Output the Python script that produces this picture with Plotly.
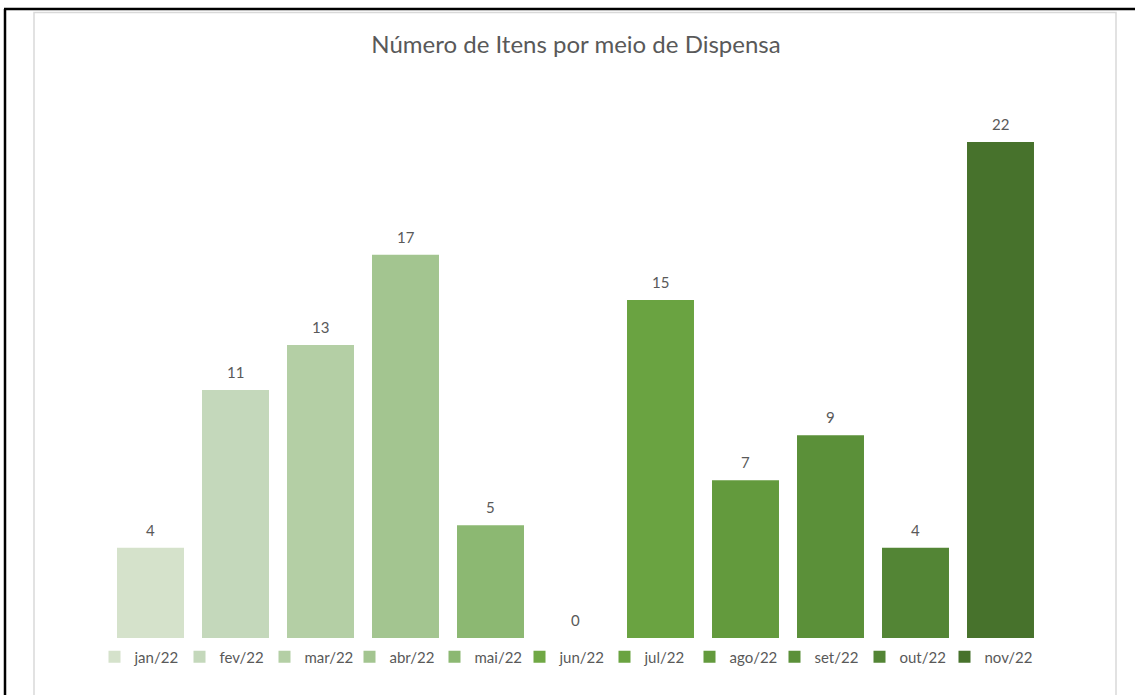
import plotly.graph_objects as go

months = ["jan/22", "fev/22", "mar/22", "abr/22", "mai/22", "jun/22",
          "jul/22", "ago/22", "set/22", "out/22", "nov/22"]
values = [4, 11, 13, 17, 5, 0, 15, 7, 9, 4, 22]
colors = ["#d5e2cb", "#c4d8bb", "#b4cfa5", "#a3c590", "#8cb872", "#70a845",
          "#6aa341", "#639a3d", "#5b9039", "#538535", "#47722c"]
title = "Número de Itens por meio de Dispensa"

W, H = 1135, 695
L, R, T, B = 40, 40, 97, 57
pw, ph = W - L - R, H - T - B
step = 85.0  # pixels per category
x_lo = -0.5 - (108 - L) / step
x_hi = 10.5 + (92 - R) / step

def px(x):
    return (x - L) / pw

def py(y):
    return (H - B - y) / ph

font = "Lato"
fig = go.Figure()
for i, (m, v, c) in enumerate(zip(months, values, colors)):
    fig.add_trace(go.Bar(
        x=[m], y=[v], name=m, marker=dict(color=c, line=dict(width=0)),
        cliponaxis=False,
        legendwidth=50 if i == len(months) - 1 else 40,
    ))
    fig.add_annotation(x=m, y=v, text=str(v), showarrow=False,
                       xref="x", yref="y", yanchor="middle", yshift=18,
                       font=dict(color="#595959", size=15, family=font))

fig.update_layout(
    width=W, height=H,
    margin=dict(l=L, r=R, t=T, b=B),
    barmode="relative", bargap=0.212,
    plot_bgcolor="white", paper_bgcolor="white",
    title=dict(text=title, x=px(576), xref="paper", xanchor="center",
               y=1 - 45 / H, yanchor="middle",
               font=dict(family=font, size=24, color="#595959")),
    xaxis=dict(showticklabels=False, showgrid=False, zeroline=False,
               showline=False, ticks="", categoryorder="array",
               categoryarray=months, range=[x_lo, x_hi]),
    yaxis=dict(range=[0, 24], visible=False, showgrid=False, zeroline=False),
    legend=dict(orientation="h", x=px(567), xanchor="center",
                y=py(657), yanchor="middle", bgcolor="rgba(0,0,0,0)",
                font=dict(family=font, size=15, color="#595959"),
                entrywidth=40, entrywidthmode="pixels",
                traceorder="normal", itemclick=False),
    showlegend=True,
    shapes=[
        dict(type="rect", xref="paper", yref="paper",
             x0=px(34), x1=px(1116), y0=py(720), y1=py(12.5),
             line=dict(color="#d9d9d9", width=1.5), layer="below"),
        dict(type="line", xref="paper", yref="paper",
             x0=px(4), x1=px(1140), y0=py(9), y1=py(9),
             line=dict(color="black", width=2.5)),
        dict(type="line", xref="paper", yref="paper",
             x0=px(5), x1=px(5), y0=py(9), y1=py(700),
             line=dict(color="black", width=2.5)),
    ],
)

fig.write_html("out.html", config={"displayModeBar": False},
               post_script="document.body.style.margin='0';"
                           "document.body.style.overflow='hidden';")
